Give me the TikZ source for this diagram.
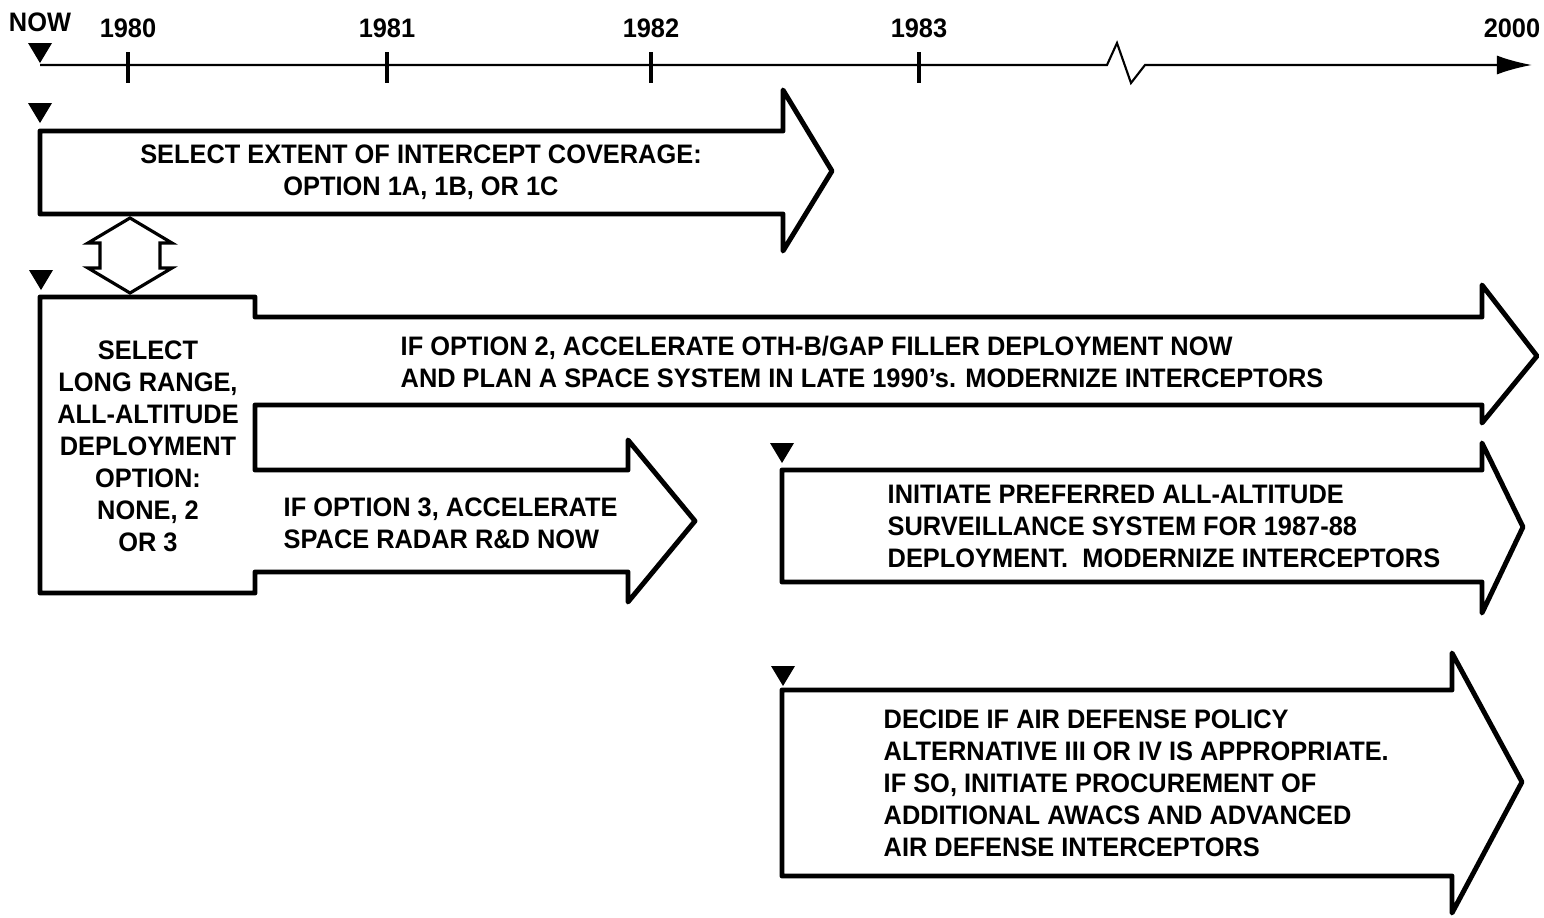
\documentclass[tikz,border=0pt]{standalone}
\usepackage{fontspec}
\setmainfont{Liberation Sans}[FakeStretch=0.95]
\usepackage{tikz}
\usetikzlibrary{arrows.meta}

\begin{document}
\begin{tikzpicture}[x=0.01cm, y=-0.01cm,
  font=\fontsize{7.6}{9.1}\selectfont\bfseries,
  blockarrow/.style={line width=1.4pt, line join=round},
  lbl/.style={inner sep=0pt, align=left, anchor=west},
  ctr/.style={inner sep=0pt, align=center}]
  \useasboundingbox (0,0) rectangle (1544,918);
  \draw[line width=0.6pt, -{Latex[length=3.5mm, width=1.9mm]}] (40,65) -- (1107,65) -- (1117,43) -- (1131,83) -- (1145,65) -- (1532,65);
  \node[ctr] (now) at (40,22) {NOW};
  \foreach \x/\yr in {128/1980, 387/1981, 651/1982, 919/1983} {
    \draw[line width=1pt] (\x,52) -- (\x,83);
    \node[ctr] (y\yr) at (\x,28) {\yr};
  }
  \node[ctr] (y2000) at (1512,28) {2000};
  \foreach \x/\y in {40/63, 40/123, 41/290, 782/463, 783/686}
    \fill (\x-12,\y-20) -- (\x+12,\y-20) -- (\x,\y) -- cycle;
  \draw[blockarrow] (40,131) -- (783,131) -- (783,90) -- (832,171) -- (783,251) -- (783,214) -- (40,214) -- cycle;
  \node[ctr] (coverage) at (421,172) {SELECT EXTENT OF INTERCEPT COVERAGE:\\OPTION 1A, 1B, OR 1C};
  \draw[line width=0.9pt] (130,218) -- (172,243) -- (160,243) -- (160,268) -- (172,268) -- (130,293) -- (88,268) -- (100,268) -- (100,243) -- (88,243) -- cycle;
  \draw[blockarrow] (40,297) -- (255,297) -- (255,317) -- (1482,317) -- (1482,285) -- (1537,356) -- (1482,423) -- (1482,405)
    -- (255,405) -- (255,470) -- (628,470) -- (628,440) -- (695,521) -- (628,602) -- (628,572) -- (255,572) -- (255,593) -- (40,593) -- cycle;
  \node[ctr] (longrange) at (148,446) {SELECT\\LONG RANGE,\\ALL-ALTITUDE\\DEPLOYMENT\\OPTION:\\NONE, 2\\OR 3};
  \node[lbl] (option2) at (400,362) {IF OPTION 2, ACCELERATE OTH-B/GAP FILLER DEPLOYMENT NOW\\AND PLAN A SPACE SYSTEM IN LATE 1990's. MODERNIZE INTERCEPTORS};
  \node[lbl] (option3) at (283,523) {IF OPTION 3, ACCELERATE\\SPACE RADAR R\&D NOW};
  \draw[blockarrow] (782,470) -- (1482,470) -- (1482,443) -- (1523,527) -- (1482,613) -- (1482,582) -- (782,582) -- cycle;
  \node[lbl] (initiate) at (887,526) {INITIATE PREFERRED ALL-ALTITUDE\\SURVEILLANCE SYSTEM FOR 1987-88\\DEPLOYMENT.\ \ MODERNIZE INTERCEPTORS};
  \draw[blockarrow] (782,690) -- (1452,690) -- (1452,653) -- (1522,782) -- (1452,913) -- (1452,876) -- (782,876) -- cycle;
  \node[lbl] (decide) at (883,783) {DECIDE IF AIR DEFENSE POLICY\\ALTERNATIVE III OR IV IS APPROPRIATE.\\IF SO, INITIATE PROCUREMENT OF\\ADDITIONAL AWACS AND ADVANCED\\AIR DEFENSE INTERCEPTORS};
\end{tikzpicture}
\end{document}
